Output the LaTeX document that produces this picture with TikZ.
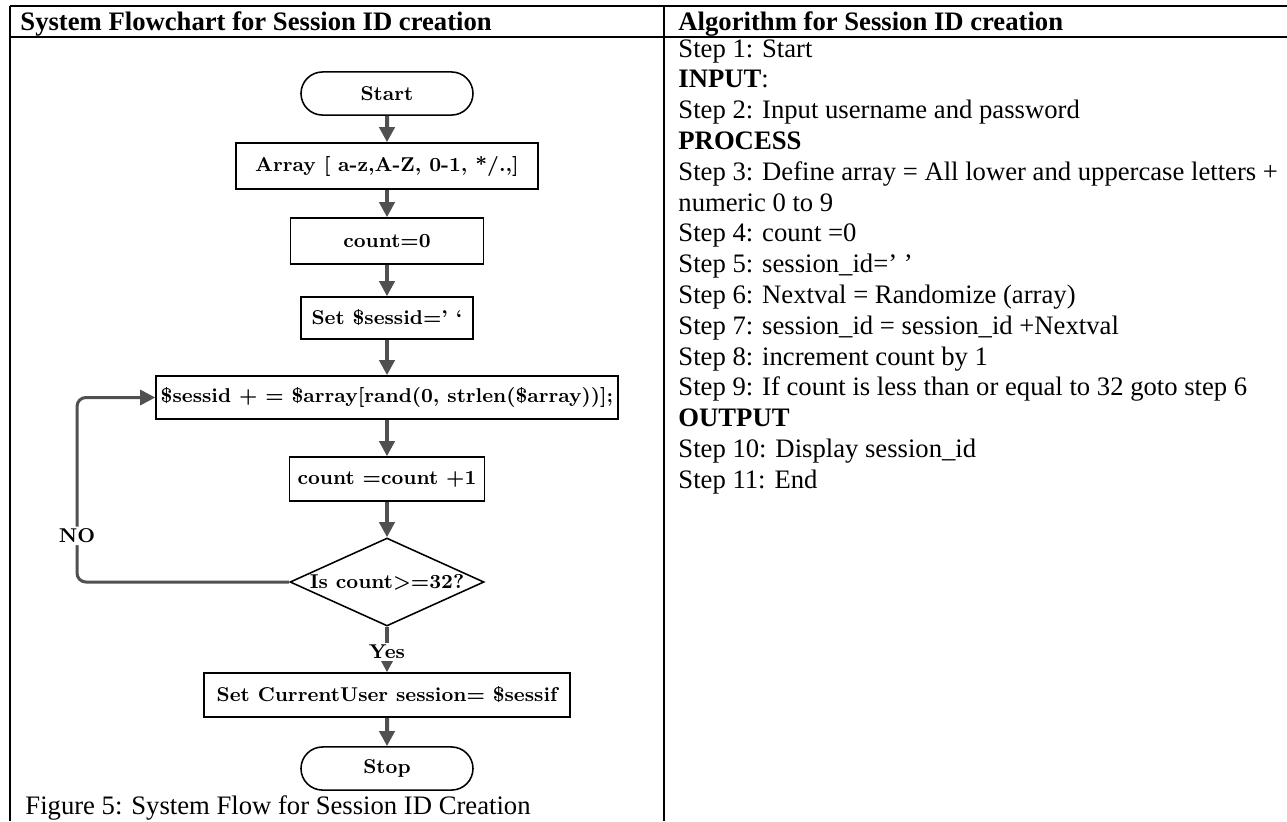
\documentclass[tikz,border=0pt]{standalone}
\usepackage{fontspec}
\newfontfamily\timesfont{Liberation Serif}
\usetikzlibrary{arrows.meta,shapes.geometric,shapes.misc}
\definecolor{flowgray}{RGB}{80,80,80}

\begin{document}
\begin{tikzpicture}[x=0.45pt, y=-0.45pt,
  chart/.style={font=\bfseries\fontsize{9}{10}\selectfont, draw=black, line width=0.7pt, inner sep=0pt, align=center},
  procbox/.style={chart, rectangle},
  termbox/.style={chart, rounded rectangle, minimum width=77.4pt, minimum height=19.4pt},
  decbox/.style={chart, diamond, aspect=2.2, minimum width=87.3pt, minimum height=39.6pt},
  flow/.style={flowgray, line width=1.8pt, -{Triangle[width=6.8pt,length=6.8pt]}},
  flowlabel/.style={font=\bfseries\fontsize{9}{10}\selectfont, text=black, fill=white, inner sep=1pt},
  tabtext/.style={font=\timesfont\fontsize{12}{13.86}\selectfont, inner sep=0pt, anchor=base west},
  rule/.style={black, line width=0.9pt}]

\useasboundingbox (0,0) rectangle (1287,821);

% table
\draw[rule] (10,6) -- (1287,6);
\draw[rule] (10,37) -- (1287,37);
\draw[rule] (10,6) -- (10,821);
\draw[rule] (664,6) -- (664,821);
\node[tabtext, font=\timesfont\bfseries\fontsize{12}{13.86}\selectfont] (lhead) at (20,30) {System Flowchart for Session ID creation};
\node[tabtext, font=\timesfont\bfseries\fontsize{12}{13.86}\selectfont] (rhead) at (678,30) {Algorithm for Session ID creation};

% flowchart
\node[termbox] (start) at (387,93.5) {Start};
\node[procbox, minimum width=135.9pt, minimum height=20.7pt] (arr) at (387,166) {Array [ a-z,A-Z, 0-1, */.,]};
\node[procbox, minimum width=86.9pt, minimum height=20.7pt] (cnt) at (387,241) {count=0};
\node[procbox, minimum width=77.4pt, minimum height=18.9pt] (sid) at (387,318) {Set \$sessid=’ ‘};
\node[procbox, minimum width=207.9pt, minimum height=19.4pt] (add) at (387,397.5) {\$sessid + = \$array[rand(0, strlen(\$array))];};
\node[procbox, minimum width=87.75pt, minimum height=19.8pt] (inc) at (387,479) {count =count +1};
\node[decbox] (dec) at (387,582) {Is count>=32?};
\node[procbox, minimum width=164.7pt, minimum height=19.8pt] (cur) at (387,695) {Set CurrentUser session= \$sessif};
\node[termbox] (stop) at (387,768.5) {Stop};

\draw[flow] (start) -- (arr);
\draw[flow] (arr) -- (cnt);
\draw[flow] (cnt) -- (sid);
\draw[flow] (sid) -- (add);
\draw[flow] (add) -- (inc);
\draw[flow] (inc) -- (dec);
\draw[flow] (dec) -- node[flowlabel, pos=0.55] {Yes} (cur);
\draw[flow] (cur) -- (stop);

% loop back
\coordinate (loopx) at (77,582);
\draw[flow, line width=1.35pt, rounded corners=4pt] (dec.west) -- (loopx) |- node[flowlabel, pos=0.125] {NO} (add.west);

\node[tabtext] (caption) at (25,814) {Figure 5: System Flow for Session ID Creation};

% algorithm
\foreach \txt [count=\i] in {
  Step 1: Start,
  \textbf{INPUT}:,
  Step 2: Input username and password,
  \textbf{PROCESS},
  Step 3: Define array = All lower and uppercase letters +,
  numeric 0 to 9,
  Step 4: count =0,
  Step 5: session\_id=’ ’,
  Step 6: Nextval = Randomize (array),
  Step 7: session\_id = session\_id +Nextval,
  Step 8: increment count by 1,
  Step 9: If count is less than or equal to 32 goto step 6,
  \textbf{OUTPUT},
  Step 10: Display session\_id,
  Step 11: End}{
  \node[tabtext] (step\i) at (678,{26.2+30.8*\i}) {\txt};
}

\end{tikzpicture}
\end{document}
